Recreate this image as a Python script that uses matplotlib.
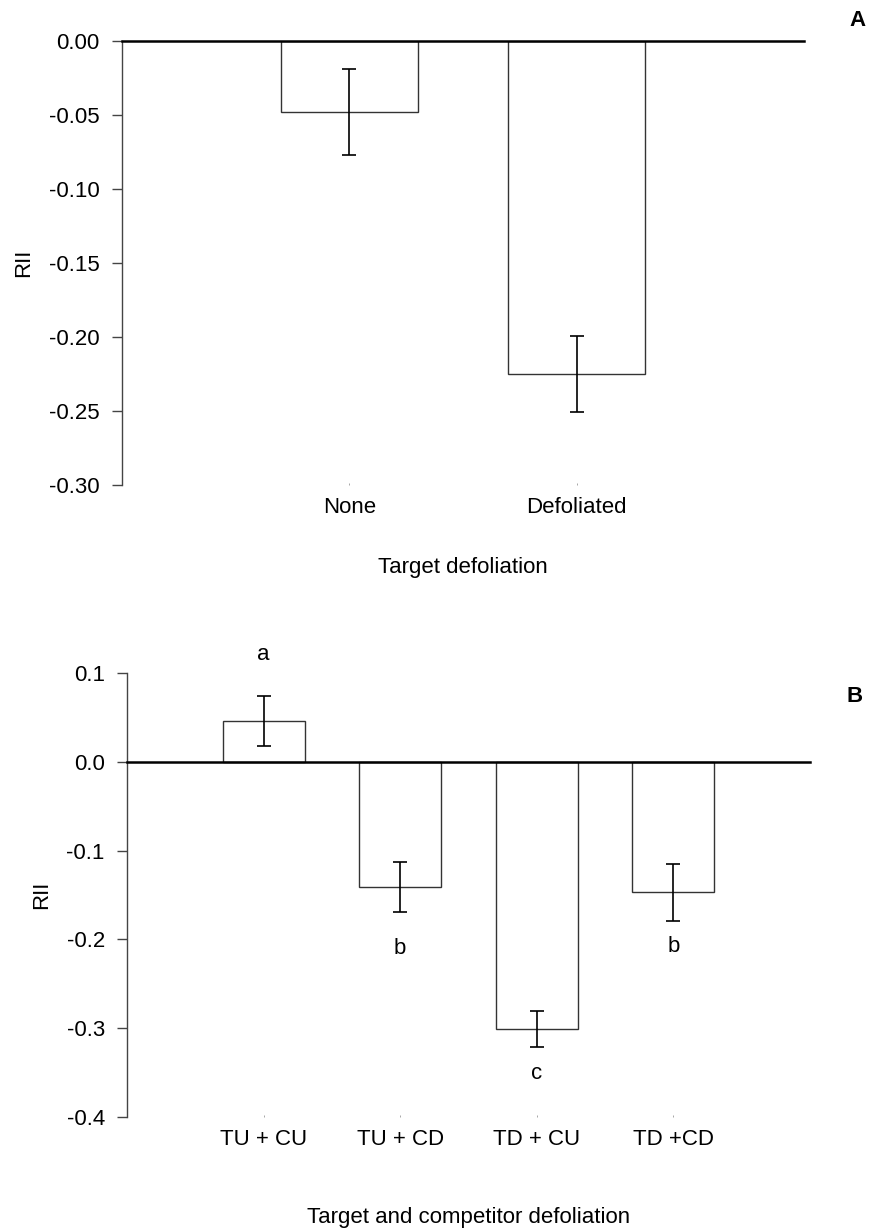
import matplotlib.pyplot as plt

plt.rcParams["font.family"] = ["Liberation Sans", "DejaVu Sans"]

# Panel A: target defoliation
cats_a = ["None", "Defoliated"]
rii_a = [-0.048, -0.225]
err_a = [0.029, 0.026]

# Panel B: target and competitor defoliation
cats_b = ["TU + CU", "TU + CD", "TD + CU", "TD +CD"]
rii_b = [0.046, -0.141, -0.301, -0.147]
err_b = [0.028, 0.028, 0.020, 0.032]
letters_b = ["a", "b", "c", "b"]
letter_y_b = [0.121, -0.210, -0.351, -0.208]

W, H = 869, 1230
FS = 16
fig = plt.figure(figsize=(W / 100, H / 100), dpi=100)


def axes_px(x0, x1, y0, y1):
    return fig.add_axes([x0 / W, 1 - y1 / H, (x1 - x0) / W, (y1 - y0) / H])


def style(ax):
    for s in ["top", "right", "bottom"]:
        ax.spines[s].set_visible(False)
    ax.spines["left"].set_color("#444444")
    ax.spines["left"].set_linewidth(1.0)
    ax.tick_params(axis="y", direction="out", length=7, width=1, color="#444444",
                   pad=9, labelsize=FS)
    ax.tick_params(axis="x", direction="in", length=1.5, width=0.6, color="#999999",
                   pad=8.5, labelsize=FS)


def draw_bars(ax, cats, vals, errs):
    pos = list(range(len(cats)))
    ax.bar(pos, vals, width=0.6, color="white", edgecolor="#333333", linewidth=1.0, zorder=2)
    ax.errorbar(pos, vals, yerr=errs, fmt="none", ecolor="black", elinewidth=1.2,
                capsize=5, capthick=1.2, zorder=3)
    ax.axhline(0, color="black", linewidth=1.8, zorder=4, clip_on=False)
    ax.set_xticks(pos)
    ax.set_xticklabels(cats)
    ax.set_xlim(-1, len(cats))


# ---- panel A
ax_a = axes_px(122, 804, 41, 485)
draw_bars(ax_a, cats_a, rii_a, err_a)
ax_a.set_ylim(-0.30, 0.0)
ticks_a = [0.0, -0.05, -0.10, -0.15, -0.20, -0.25, -0.30]
ax_a.set_yticks(ticks_a)
ax_a.set_yticklabels([f"{v:.2f}" for v in ticks_a])
style(ax_a)
ax_a.set_ylabel("RII", fontsize=FS)
ax_a.yaxis.set_label_coords((34 - 122) / 682, 0.5)
ax_a.set_xlabel("Target defoliation", fontsize=FS)
ax_a.xaxis.set_label_coords(0.5, (485 - 567) / 444)
ax_a.xaxis.label.set_va("center")
fig.text(858 / W, 1 - 20 / H, "A", fontsize=FS, fontweight="bold", ha="center", va="center")

# ---- panel B
ax_b = axes_px(127, 810, 673, 1117)
draw_bars(ax_b, cats_b, rii_b, err_b)
ax_b.set_ylim(-0.4, 0.1)
ticks_b = [0.1, 0.0, -0.1, -0.2, -0.3, -0.4]
ax_b.set_yticks(ticks_b)
ax_b.set_yticklabels([f"{v:.1f}" for v in ticks_b])
style(ax_b)
for i, (lab, ly) in enumerate(zip(letters_b, letter_y_b)):
    ax_b.text(i, ly, lab, fontsize=FS, ha="center", va="center", clip_on=False)
ax_b.set_ylabel("RII", fontsize=FS)
ax_b.yaxis.set_label_coords((52 - 127) / 683, 0.5)
ax_b.set_xlabel("Target and competitor defoliation", fontsize=FS)
ax_b.xaxis.set_label_coords(0.5, (1117 - 1217) / 444)
ax_b.xaxis.label.set_va("center")
fig.text(855 / W, 1 - 697 / H, "B", fontsize=FS, fontweight="bold", ha="center", va="center")

fig.savefig("out.png", dpi=100, facecolor="white")
